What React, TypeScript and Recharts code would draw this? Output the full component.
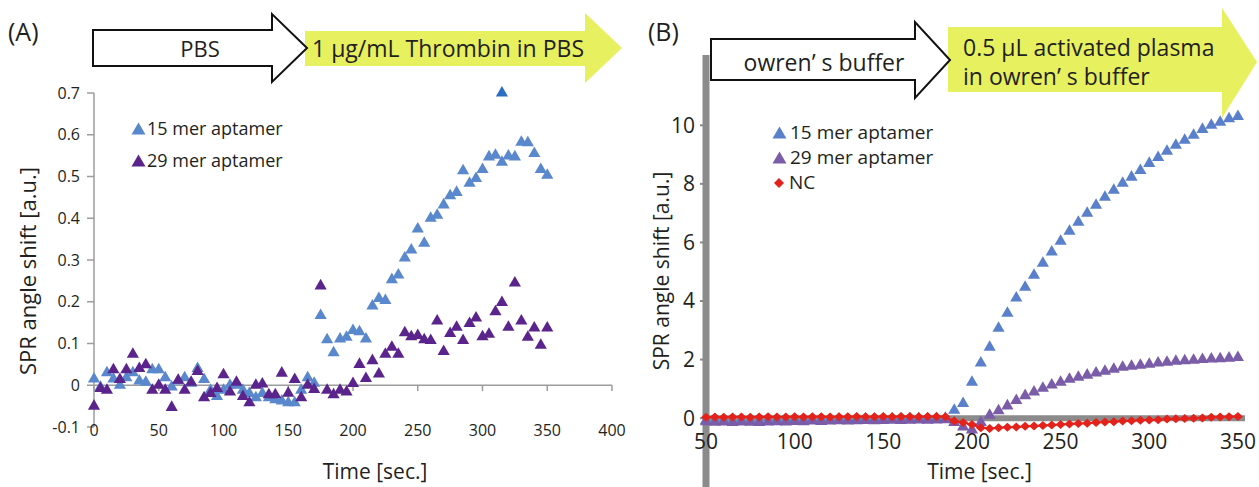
import React from "react";
import {
  ScatterChart,
  Scatter,
  XAxis,
  YAxis,
  ZAxis,
  ReferenceLine,
  Legend,
} from "recharts";

document.body.style.margin = "0";

// ---- panel (A): thrombin in PBS ----
const timesA = [
  0, 5, 10, 15, 20, 25, 30, 35, 40, 45, 50, 55, 60, 65, 70, 75, 80, 85, 90, 95,
  100, 105, 110, 115, 120, 125, 130, 135, 140, 145, 150, 155, 160, 165, 170,
  175, 180, 185, 190, 195, 200, 205, 210, 215, 220, 225, 230, 235, 240, 245,
  250, 255, 260, 265, 270, 275, 280, 285, 290, 295, 300, 305, 310, 315, 320,
  325, 330, 335, 340, 345, 350,
];
const mer15A = [
  0.015, -0.005, 0.03, 0.015, 0.0, 0.018, 0.03, 0.01, 0.007, 0.037, 0.037,
  0.018, -0.004, 0.01, 0.018, 0.005, 0.04, 0.014, -0.012, -0.027, -0.012, 0.0,
  0.0, -0.012, -0.02, -0.03, -0.02, -0.03, -0.035, -0.038, -0.042, -0.042,
  -0.012, 0.018, 0.005,
  0.167, 0.109, 0.078, 0.111, 0.115, 0.131, 0.128, 0.111, 0.19, 0.208, 0.203,
  0.253, 0.264, 0.305, 0.324, 0.374, 0.34, 0.4, 0.407, 0.432, 0.454, 0.462,
  0.514, 0.484, 0.495, 0.517, 0.547, 0.551, 0.534, 0.549, 0.547, 0.582, 0.581,
  0.555, 0.517, 0.503,
];
const mer29A = [
  -0.05, -0.008, -0.012, 0.037, 0.014, 0.037, 0.074, 0.04, 0.049, -0.012, 0.0,
  -0.012, -0.053, 0.012, -0.012, 0.007, 0.033, -0.03, -0.02, -0.008, 0.025,
  -0.016, 0.007, -0.027, -0.042, 0.0, 0.003, -0.023, -0.023, 0.029, -0.019,
  0.014, -0.03, 0.0, -0.01,
  0.238, -0.012, -0.023, -0.012, -0.016, 0.004, 0.05, 0.016, 0.059, 0.027,
  0.074, 0.091, 0.074, 0.126, 0.116, 0.119, 0.109, 0.107, 0.154, 0.081, 0.124,
  0.139, 0.107, 0.148, 0.161, 0.116, 0.122, 0.176, 0.198, 0.139, 0.245, 0.154,
  0.115, 0.137, 0.096, 0.137,
];
const markTimeA = [315];
const markValueA = [0.7];

const xTicksA = [0, 50, 100, 150, 200, 250, 300, 350, 400];
const yTicksA = [-0.1, 0, 0.1, 0.2, 0.3, 0.4, 0.5, 0.6, 0.7];

// ---- panel (B): activated plasma ----
const timesB = [
  50, 55, 60, 65, 70, 75, 80, 85, 90, 95, 100, 105, 110, 115, 120, 125, 130,
  135, 140, 145, 150, 155, 160, 165, 170, 175, 180, 185, 190, 195, 200, 205,
  210, 215, 220, 225, 230, 235, 240, 245, 250, 255, 260, 265, 270, 275, 280,
  285, 290, 295, 300, 305, 310, 315, 320, 325, 330, 335, 340, 345, 350,
];
const mer15B = [
  -0.08, -0.1, -0.09, -0.1, -0.08, -0.09, -0.1, -0.08, -0.07, -0.08, -0.06,
  -0.07, -0.05, -0.06, -0.05, -0.04, -0.05, -0.04, -0.03, -0.04, -0.03, -0.02,
  -0.03, -0.02, -0.01, -0.02, -0.01, 0.0,
  0.27, 0.5, 1.23, 1.88, 2.42, 3.07, 3.58, 4.1, 4.47, 4.88, 5.29, 5.67, 6.04,
  6.38, 6.69, 7.0, 7.27, 7.54, 7.78, 8.02, 8.23, 8.46, 8.7, 8.9, 9.11, 9.32,
  9.49, 9.66, 9.86, 10.0, 10.1, 10.22, 10.3,
];
const mer29B = [
  -0.12, -0.14, -0.13, -0.15, -0.13, -0.14, -0.15, -0.13, -0.12, -0.13, -0.11,
  -0.12, -0.1, -0.11, -0.1, -0.09, -0.1, -0.09, -0.08, -0.09, -0.08, -0.07,
  -0.08, -0.07, -0.06, -0.07, -0.06, -0.05,
  -0.15, -0.3, -0.4, -0.15, 0.1, 0.25, 0.42, 0.6, 0.77, 0.89, 1.02, 1.13, 1.23,
  1.33, 1.4, 1.47, 1.54, 1.6, 1.67, 1.74, 1.77, 1.81, 1.84, 1.88, 1.91, 1.94,
  1.96, 1.98, 2.0, 2.02, 2.03, 2.05, 2.07,
];
const ncB = [
  0.03, 0.04, 0.03, 0.04, 0.04, 0.03, 0.04, 0.05, 0.04, 0.04, 0.05, 0.04, 0.05,
  0.05, 0.04, 0.05, 0.05, 0.06, 0.05, 0.05, 0.06, 0.05, 0.06, 0.06, 0.05, 0.06,
  0.06, 0.05,
  -0.1, -0.15, -0.22, -0.33, -0.35, -0.33, -0.31, -0.3, -0.28, -0.27, -0.25,
  -0.23, -0.22, -0.2, -0.18, -0.17, -0.15, -0.13, -0.12, -0.1, -0.09, -0.07,
  -0.06, -0.05, -0.03, -0.02, -0.01, 0.0, 0.01, 0.03, 0.04, 0.05, 0.06,
];

const xTicksB = [50, 100, 150, 200, 250, 300, 350];
const yTicksB = [0, 2, 4, 6, 8, 10];

const FONT = "'Open Sans', 'Noto Sans', sans-serif";
const TEXT = "#231f20";
const AXIS_A = "#9c9c9c";
const AXIS_B = "#8b8b8b";

const zip = (xs: number[], ys: number[]) =>
  xs.map((x, i) => ({ x, y: ys[i] }));

const dataA15 = zip(timesA, mer15A);
const dataA29 = zip(timesA, mer29A);
const dataAMark = zip(markTimeA, markValueA);
const dataB15 = zip(timesB, mer15B);
const dataB29 = zip(timesB, mer29B);
const dataBNC = zip(timesB, ncB);

const fmtA = (v: number) => (v === 0 ? "0" : v.toFixed(1));

const TickA = (p: any) => (
  <text
    x={p.x}
    y={p.y + 3}
    textAnchor="middle"
    dominantBaseline="central"
    fontSize={16}
    fill={TEXT}
  >
    {p.payload.value}
  </text>
);

// panel B draws its x labels just under the zero line, well above the plot bottom
const TickB = (p: any) => (
  <text
    x={p.x}
    y={p.y - 46}
    textAnchor="middle"
    dominantBaseline="central"
    fontSize={21}
    fill={TEXT}
  >
    {p.payload.value}
  </text>
);

const Diamond = (p: any) => {
  const { cx, cy, fill } = p;
  return (
    <polygon
      points={`${cx},${cy - 4.5} ${cx + 5},${cy} ${cx},${cy + 4.5} ${cx - 5},${cy}`}
      fill={fill}
    />
  );
};

const Marker = ({ type, color }: { type: string; color: string }) =>
  type === "diamond" ? (
    <svg width={14} height={12}>
      <polygon points="7,1 12,6 7,11 2,6" fill={color} />
    </svg>
  ) : (
    <svg width={15} height={13}>
      <polygon points="7.5,0.5 14.5,12.5 0.5,12.5" fill={color} />
    </svg>
  );

const makeLegend = (fontSize: number, rowHeight: number, gap: number) =>
  function LegendBox(props: any) {
    const items = (props.payload || []).filter((e: any) => e.type !== "none");
    return (
      <div style={{ fontFamily: FONT, fontSize, color: TEXT }}>
        {items.map((e: any) => (
          <div
            key={e.value}
            style={{ display: "flex", alignItems: "center", height: rowHeight }}
          >
            <Marker type={e.type} color={e.color} />
            <span style={{ marginLeft: gap, lineHeight: 1 }}>{e.value}</span>
          </div>
        ))}
      </div>
    );
  };

const LegendA = makeLegend(18, 32, 1);
const LegendB = makeLegend(19, 25, 3);

export default function App() {
  return (
    <div
      style={{
        position: "relative",
        width: 1259,
        height: 487,
        overflow: "hidden",
        background: "#ffffff",
        fontFamily: FONT,
      }}
    >
      <div style={{ position: "absolute", left: 0, top: 0 }}>
        <ScatterChart
          width={630}
          height={487}
          margin={{ top: 93, right: 18, bottom: 0, left: 10 }}
        >
          <XAxis
            type="number"
            dataKey="x"
            domain={[0, 400]}
            ticks={xTicksA}
            axisLine={false}
            tickLine={false}
            tickSize={0}
            tickMargin={0}
            height={60}
            tick={TickA}
            label={{
              value: "Time [sec.]",
              position: "insideBottom",
              offset: 8,
              dx: 22,
              fontSize: 21,
              fill: TEXT,
            }}
          />
          <YAxis
            type="number"
            dataKey="y"
            domain={[-0.1, 0.7]}
            ticks={yTicksA}
            width={84}
            axisLine={{ stroke: AXIS_A, strokeWidth: 1.5 }}
            tickLine={{ stroke: AXIS_A, strokeWidth: 1.5 }}
            tickSize={7}
            tickMargin={7}
            tick={{ fontSize: 16, fill: TEXT }}
            tickFormatter={fmtA}
            label={{
              value: "SPR angle shift [a.u.]",
              angle: -90,
              position: "insideLeft",
              offset: 18,
              dy: 11,
              fontSize: 22,
              fill: TEXT,
              style: { textAnchor: "middle" },
            }}
          />
          <ZAxis range={[75, 75]} />
          <ReferenceLine y={0} stroke={AXIS_A} strokeWidth={1.5} />
          {xTicksA.map((t) => (
            <ReferenceLine
              key={t}
              segment={[
                { x: t, y: 0 },
                { x: t, y: -0.014 },
              ]}
              stroke={AXIS_A}
              strokeWidth={1.5}
            />
          ))}
          <Scatter
            name="15 mer aptamer"
            data={dataA15}
            fill="#5a88cc"
            shape="triangle"
            legendType="triangle"
            isAnimationActive={false}
          />
          <Scatter
            name="29 mer aptamer"
            data={dataA29}
            fill="#5a248c"
            shape="triangle"
            legendType="triangle"
            isAnimationActive={false}
          />
          <Scatter
            name="mark"
            data={dataAMark}
            fill="#2d6cc3"
            shape="triangle"
            legendType="none"
            isAnimationActive={false}
          />
          <Legend
            layout="vertical"
            align="center"
            verticalAlign="middle"
            content={LegendA}
            wrapperStyle={{ left: 131, top: 112, width: 250 }}
          />
        </ScatterChart>
      </div>

      <div style={{ position: "absolute", left: 630, top: 0 }}>
        <ScatterChart
          width={629}
          height={517}
          margin={{ top: 55, right: 14, bottom: 0, left: 16 }}
        >
          <XAxis
            type="number"
            dataKey="x"
            domain={[50, 354]}
            ticks={xTicksB}
            axisLine={false}
            tickLine={false}
            tickSize={0}
            tickMargin={0}
            height={30}
            tick={TickB}
            label={{
              value: "Time [sec.]",
              position: "top",
              offset: 8,
              dx: 4,
              fontSize: 21,
              fill: TEXT,
            }}
          />
          <YAxis
            type="number"
            dataKey="y"
            domain={[-2.35, 12.4]}
            ticks={yTicksB}
            width={60}
            axisLine={{ stroke: AXIS_B, strokeWidth: 7 }}
            tickLine={{ stroke: AXIS_B, strokeWidth: 2 }}
            tickSize={6}
            tickMargin={5}
            tick={{ fontSize: 21, fill: TEXT }}
            label={{
              value: "SPR angle shift [a.u.]",
              angle: -90,
              position: "insideLeft",
              offset: 16,
              fontSize: 21,
              fill: TEXT,
              style: { textAnchor: "middle" },
            }}
          />
          <ZAxis range={[48, 48]} />
          <Scatter
            name="15 mer aptamer"
            data={dataB15}
            fill="#5b80cb"
            shape="triangle"
            legendType="triangle"
            isAnimationActive={false}
          />
          <Scatter
            name="29 mer aptamer"
            data={dataB29}
            fill="#7a5ca8"
            shape="triangle"
            legendType="triangle"
            isAnimationActive={false}
          />
          <ReferenceLine y={0} stroke={AXIS_B} strokeWidth={6} />
          <Scatter
            name="NC"
            data={dataBNC}
            fill="#e3231b"
            line={{ stroke: "#e3231b", strokeWidth: 2 }}
            lineType="joint"
            shape={Diamond}
            legendType="diamond"
            isAnimationActive={false}
          />
          <Legend
            layout="vertical"
            align="center"
            verticalAlign="middle"
            content={LegendB}
            wrapperStyle={{ left: 142, top: 120, width: 250 }}
          />
        </ScatterChart>
      </div>

      <svg
        width={1259}
        height={487}
        style={{ position: "absolute", left: 0, top: 0, pointerEvents: "none" }}
        fontFamily={FONT}
        fill={TEXT}
      >
        <text x={8} y={31} fontSize={25} fontWeight={500} dominantBaseline="central">
          (A)
        </text>
        <polygon
          points="305,31 585,31 585,13 622,48 585,83 585,66 305,66"
          fill="#e7f05e"
        />
        <polygon
          points="93,30 272,30 272,14 307,48 272,82 272,66 93,66"
          fill="#ffffff"
          stroke="#111111"
          strokeWidth={2}
        />
        <text x={200} y={48} fontSize={22} textAnchor="middle" dominantBaseline="central">
          PBS
        </text>
        <text x={312} y={48} fontSize={23} dominantBaseline="central">
          1 μg/mL Thrombin in PBS
        </text>

        <text x={648} y={31} fontSize={25} fontWeight={500} dominantBaseline="central">
          (B)
        </text>
        <polygon
          points="948,27 1222,27 1222,8 1257,62 1222,118 1222,92 948,92"
          fill="#e7f05e"
        />
        <polygon
          points="711,39 915,39 915,22 950,60 915,98 915,80 711,80"
          fill="#ffffff"
          stroke="#111111"
          strokeWidth={2}
        />
        <text x={824} y={62} fontSize={23} textAnchor="middle" dominantBaseline="central">
          owren’ s buffer
        </text>
        <text x={963} y={47} fontSize={23} dominantBaseline="central">
          0.5 μL activated plasma
        </text>
        <text x={963} y={76} fontSize={23} dominantBaseline="central">
          in owren’ s buffer
        </text>
      </svg>
    </div>
  );
}
